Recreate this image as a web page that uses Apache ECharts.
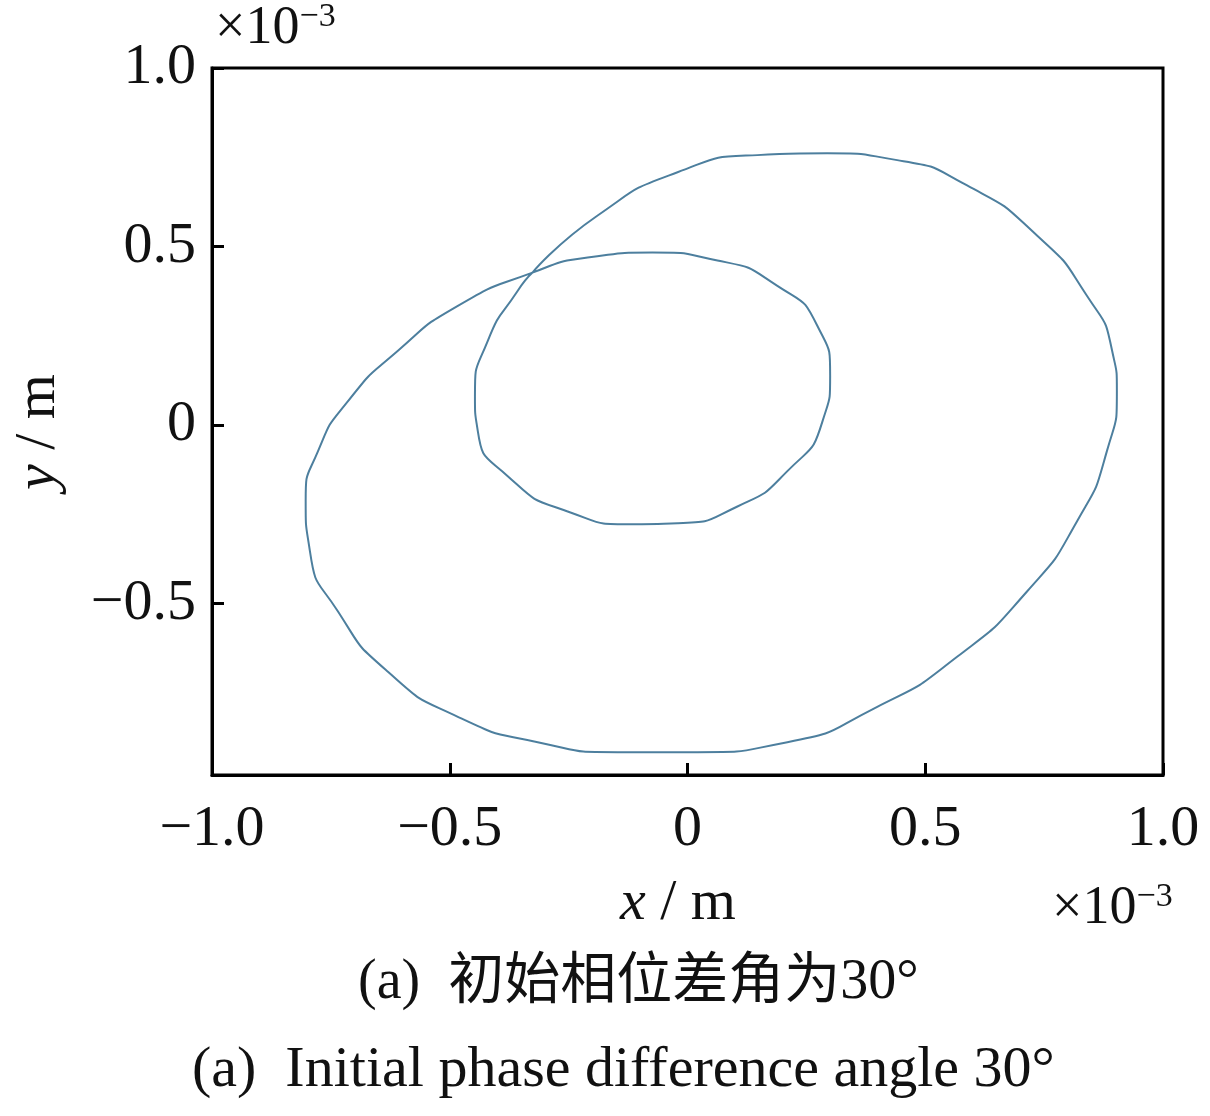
<!DOCTYPE html>
<html><head><meta charset="utf-8">
<script src="https://cdn.jsdelivr.net/npm/echarts@6/dist/echarts.min.js"></script>
<style>html,body{margin:0;padding:0;background:#fff}#c{width:1210px;height:1116px}</style>
</head><body><div id="c"></div>
<script>
// trajectory points (x, y in units of 1e-3 m)
var xs = [-0.326,-0.189,-0.021,0.147,0.294,0.441,0.588,0.735,0.840,0.893,0.903,0.882,0.819,0.714,0.567,0.399,0.210,0.021,-0.147,-0.315,-0.483,-0.630,-0.735,-0.794,-0.803,-0.777,-0.714,-0.609,-0.483,-0.326,
  -0.210,-0.074,0.063,0.189,0.273,0.300,0.284,0.210,0.105,-0.021,-0.116,-0.252,-0.378,-0.441,-0.447,-0.420,-0.357,-0.326]
var ys = [0.427,0.587,0.708,0.756,0.761,0.742,0.671,0.531,0.362,0.208,0.096,-0.073,-0.270,-0.466,-0.649,-0.789,-0.888,-0.916,-0.916,-0.888,-0.817,-0.691,-0.522,-0.354,-0.213,-0.073,0.067,0.208,0.334,0.427,
  0.469,0.483,0.461,0.390,0.278,0.138,0.011,-0.129,-0.228,-0.275,-0.278,-0.242,-0.143,-0.017,0.081,0.236,0.376,0.427]
var yTicks = [-0.5, 0, 0.5, 1.0]

var pts = xs.map(function (x, i) { return [x, ys[i]] })
var font = 'Liberation Serif'
function fmt(v) { return v === 0 ? '0' : v.toFixed(1).replace('-', '\u2212') }

var chart = echarts.init(document.getElementById('c'))
chart.setOption({
  animation: false,
  grid: { left: 212, top: 68, right: 47, bottom: 341, show: true, borderColor: '#000', borderWidth: 3 },
  xAxis: {
    type: 'value', min: -1, max: 1, interval: 0.5,
    axisLine: { onZero: false, lineStyle: { color: '#000', width: 3 } },
    axisTick: { inside: true, length: 12, lineStyle: { color: '#000', width: 3 } },
    splitLine: { show: false },
    axisLabel: { formatter: fmt, color: '#111', fontFamily: font, fontSize: 58, margin: 26 }
  },
  yAxis: {
    type: 'value', min: -0.98, max: 1,
    axisLine: { onZero: false, lineStyle: { color: '#000', width: 3 } },
    axisTick: { inside: true, length: 12, customValues: yTicks, lineStyle: { color: '#000', width: 3 } },
    splitLine: { show: false },
    axisLabel: { customValues: yTicks, formatter: fmt, color: '#111', fontFamily: font, fontSize: 58, margin: 16 }
  },
  series: [{
    type: 'line', data: pts, smooth: 0.6, showSymbol: false,
    lineStyle: { color: '#4d7f9e', width: 2 }
  }],
  graphic: [
    { type: 'text', left: 215, top: 0, style: { text: '\u00d710{s|\u22123}', font: '54px ' + font, fill: '#111',
      rich: { s: { fontSize: 34, fontFamily: font, padding: [0,0,24,0] } } } },
    { type: 'text', left: 1052, top: 880, style: { text: '\u00d710{s|\u22123}', font: '54px ' + font, fill: '#111',
      rich: { s: { fontSize: 34, fontFamily: font, padding: [0,0,24,0] } } } },
    { type: 'text', left: 620, top: 875, style: { text: '{i|x} / m', font: '58px ' + font, fill: '#111',
      rich: { i: { fontStyle: 'italic', fontSize: 58, fontFamily: font } } } },
    { type: 'text', x: 10, y: 490, rotation: Math.PI / 2, style: { text: '{i|y} / m', font: '58px ' + font, fill: '#111',
      rich: { i: { fontStyle: 'italic', fontSize: 58, fontFamily: font } } } },
    { type: 'text', left: 358, top: 955, style: { text: '(a)  初始相位差角为30\u00b0', font: '56px "Liberation Serif", "Noto Sans CJK SC"', fill: '#111' } },
    { type: 'text', left: 192, top: 1042, style: { text: '(a)  Initial phase difference angle 30\u00b0', font: '58px ' + font, fill: '#111' } }
  ]
})
</script>
</body></html>
